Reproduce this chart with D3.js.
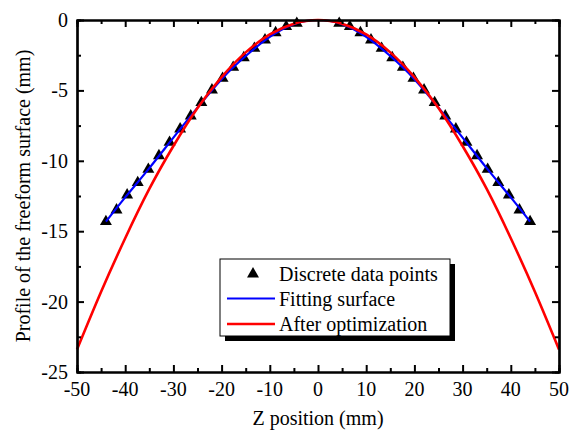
<!DOCTYPE html>
<html>
<head>
<meta charset="utf-8">
<script src="https://cdn.jsdelivr.net/npm/d3@7"></script>
<style>
  @font-face { font-family: "ChartSerif"; src: local("Liberation Serif"), local("LiberationSerif"), local("Times New Roman"), local("Tinos"); }
</style>
</head>
<body style="margin:0">
<script>
// discrete data points (triangles)
var pointX = [-44, -41.8, -39.6, -37.4, -35.2, -33, -30.8, -28.6, -26.4, -24.2, -22, -19.8, -17.6, -15.4, -13.2, -11, -8.8, -6.6, -4.4,
              4.4, 6.6, 8.8, 11, 13.2, 15.4, 17.6, 19.8, 22, 24.2, 26.4, 28.6, 30.8, 33, 35.2, 37.4, 39.6, 41.8, 44];
var pointY = [-14.32, -13.49, -12.43, -11.55, -10.61, -9.64, -8.69, -7.74, -6.82, -5.87, -4.97, -4.14, -3.36, -2.68, -2.01, -1.42, -0.90, -0.47, -0.24,
              -0.24, -0.47, -0.90, -1.42, -2.01, -2.68, -3.36, -4.14, -4.97, -5.87, -6.82, -7.74, -8.69, -9.64, -10.61, -11.55, -12.43, -13.49, -14.32];

// fitting surface (blue)
var fitX = [-44, -40, -35, -30, -25, -20, -15, -10, -5, 0, 5, 10, 15, 20, 25, 30, 35, 40, 44];
var fitY = [-14.32, -12.6, -10.52, -8.35, -6.22, -4.2, -2.56, -1.2, -0.3, 0, -0.3, -1.2, -2.56, -4.2, -6.22, -8.35, -10.52, -12.6, -14.32];

// after optimization (red)
var optX = [-50, -45, -40, -35, -30, -25, -20, -15, -10, -5, 0, 5, 10, 15, 20, 25, 30, 35, 40, 45, 50];
var optY = [-23.4, -19.3, -15.5, -12.0, -8.95, -6.25, -4.05, -2.3, -1.02, -0.26, 0, -0.26, -1.02, -2.3, -4.05, -6.25, -8.95, -12.0, -15.5, -19.3, -23.4];

var xMajor = [-50, -40, -30, -20, -10, 0, 10, 20, 30, 40, 50];
var xMinor = [-45, -35, -25, -15, -5, 5, 15, 25, 35, 45];
var yMajor = [-25, -20, -15, -10, -5, 0];
var yMinor = [-22.5, -17.5, -12.5, -7.5, -2.5];

var legendLabels = ["Discrete data points", "Fitting surface", "After optimization"];

var svgWidth = 575;
var svgHeight = 430;
var margin = { top: 20, right: 16, bottom: 58, left: 77 };
var width = svgWidth - margin.left - margin.right;
var height = svgHeight - margin.top - margin.bottom;
var serif = "'Liberation Serif', ChartSerif, 'Times New Roman', Tinos, serif";

var svg = d3.select("body")
  .append("svg")
  .attr("width", svgWidth)
  .attr("height", svgHeight)
  .attr("font-family", serif);

function label(g, str) {
  return g.append("text")
    .attr("font-size", 20)
    .attr("font-family", serif)
    .style("font-family", serif, "important")
    .attr("fill", "#000")
    .text(str);
}

var chartGroup = svg.append("g")
  .attr("transform", `translate(${margin.left}, ${margin.top})`);

var xScale = d3.scaleLinear().domain([-50, 50]).range([0, width]);
var yScale = d3.scaleLinear().domain([-25, 0]).range([height, 0]);

// series
var triangle = d3.symbol().type(d3.symbolTriangle).size(62);
var points = pointX.map((x, i) => ({ x: x, y: pointY[i] }));
chartGroup.selectAll(".pt")
  .data(points)
  .enter()
  .append("path")
  .attr("class", "pt")
  .attr("d", triangle)
  .attr("transform", d => `translate(${xScale(d.x)}, ${yScale(d.y)})`)
  .attr("fill", "#000");

var line = d3.line()
  .x(d => xScale(d[0]))
  .y(d => yScale(d[1]))
  .curve(d3.curveNatural);

chartGroup.append("path")
  .datum(fitX.map((x, i) => [x, fitY[i]]))
  .attr("d", line)
  .attr("fill", "none")
  .attr("stroke", "#0000ff")
  .attr("stroke-width", 2.2);

chartGroup.append("path")
  .datum(optX.map((x, i) => [x, optY[i]]))
  .attr("d", line)
  .attr("fill", "none")
  .attr("stroke", "#ff0000")
  .attr("stroke-width", 2.6);

// axes: ticks only (pointing inward), labels drawn separately
function styleAxis(g) {
  g.select(".domain").attr("stroke-width", 2.2);
  g.selectAll(".tick line").attr("stroke-width", 2);
  g.selectAll(".tick text").remove();
}

chartGroup.append("g")
  .attr("transform", `translate(0, ${height})`)
  .call(d3.axisBottom(xScale).tickValues(xMajor).tickSize(-7).tickSizeOuter(0))
  .call(styleAxis);
chartGroup.append("g")
  .attr("transform", `translate(0, ${height})`)
  .call(d3.axisBottom(xScale).tickValues(xMinor).tickSize(-4))
  .call(styleAxis);
chartGroup.append("g")
  .call(d3.axisTop(xScale).tickValues(xMajor).tickSize(-7).tickSizeOuter(0))
  .call(styleAxis);
chartGroup.append("g")
  .call(d3.axisTop(xScale).tickValues(xMinor).tickSize(-4))
  .call(styleAxis);
chartGroup.append("g")
  .call(d3.axisLeft(yScale).tickValues(yMajor).tickSize(-7).tickSizeOuter(0))
  .call(styleAxis);
chartGroup.append("g")
  .call(d3.axisLeft(yScale).tickValues(yMinor).tickSize(-4))
  .call(styleAxis);
chartGroup.append("g")
  .attr("transform", `translate(${width}, 0)`)
  .call(d3.axisRight(yScale).tickValues(yMajor).tickSize(-7).tickSizeOuter(0))
  .call(styleAxis);
chartGroup.append("g")
  .attr("transform", `translate(${width}, 0)`)
  .call(d3.axisRight(yScale).tickValues(yMinor).tickSize(-4))
  .call(styleAxis);

// tick labels (plain hyphen for negatives)
xMajor.forEach(function(v) {
  label(chartGroup, String(v))
    .attr("x", xScale(v))
    .attr("y", height + 24)
    .attr("text-anchor", "middle");
});
yMajor.forEach(function(v) {
  label(chartGroup, String(v))
    .attr("x", -9)
    .attr("y", yScale(v) + 7)
    .attr("text-anchor", "end");
});

// axis titles
label(chartGroup, "Z position (mm)")
  .attr("x", width / 2)
  .attr("y", height + 53)
  .attr("text-anchor", "middle");

label(chartGroup, "Profile of the freeform surface (mm)")
  .attr("transform", "rotate(-90)")
  .attr("x", -height / 2)
  .attr("y", -47)
  .attr("text-anchor", "middle");

// legend
var legend = svg.append("g").attr("transform", "translate(220, 259)");
legend.append("rect")
  .attr("x", 5).attr("y", 5)
  .attr("width", 230).attr("height", 77)
  .attr("fill", "#000");
legend.append("rect")
  .attr("x", 0).attr("y", 0)
  .attr("width", 230).attr("height", 77)
  .attr("fill", "#fff")
  .attr("stroke", "#000")
  .attr("stroke-width", 1);

legend.append("path")
  .attr("d", triangle)
  .attr("transform", "translate(33, 15)")
  .attr("fill", "#000");
legend.append("line")
  .attr("x1", 7).attr("x2", 55).attr("y1", 39.5).attr("y2", 39.5)
  .attr("stroke", "#0000ff").attr("stroke-width", 2.2);
legend.append("line")
  .attr("x1", 7).attr("x2", 55).attr("y1", 65).attr("y2", 65)
  .attr("stroke", "#ff0000").attr("stroke-width", 2.6);

legendLabels.forEach(function(d, i) {
  label(legend, d)
    .attr("x", 59)
    .attr("y", 22 + i * 25);
});
</script>
</body>
</html>
